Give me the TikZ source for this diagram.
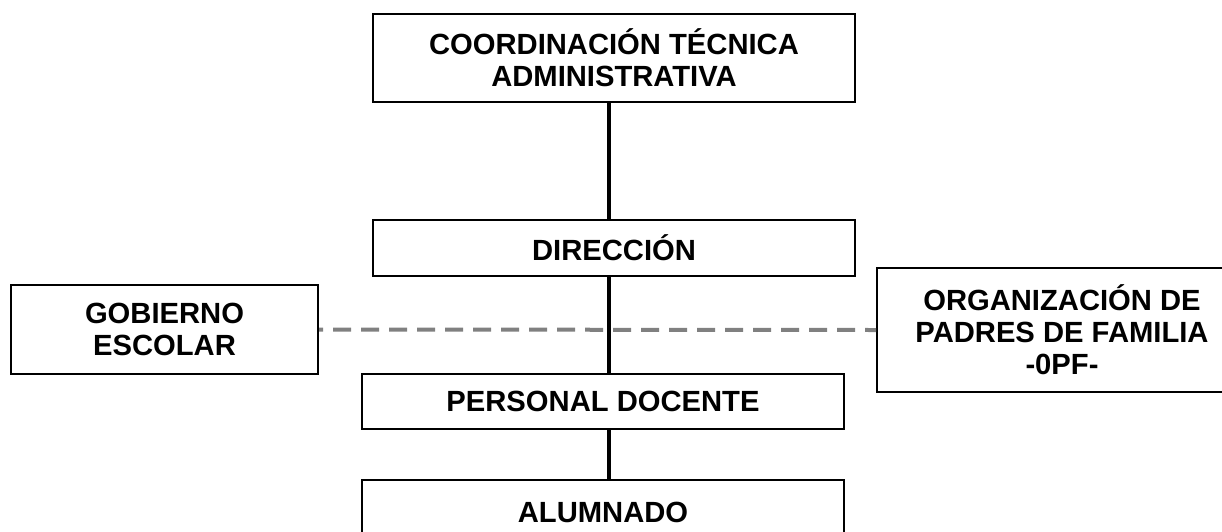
\documentclass[tikz,border=0pt]{standalone}
\usepackage{fontspec}
\setmainfont{Liberation Sans}
\usetikzlibrary{positioning}

\tikzset{
  unit/.style={draw,line width=1pt,align=center,inner sep=0pt,
    font=\fontsize{14.6}{16}\selectfont\bfseries},
  link/.style={line width=2pt},
  tie/.style={line width=2pt,color=gray,dash pattern=on 9pt off 5pt,dash phase=3.5pt}
}

\begin{document}
\begin{tikzpicture}[x=0.5pt,y=-0.5pt]

\useasboundingbox (0,0) rectangle (1222,531);

\node[unit,minimum width=241pt,minimum height=44pt] (coord) at (614,58)
	{COORDINACIÓN TÉCNICA\\ADMINISTRATIVA};
\node[unit,minimum width=241pt,minimum height=28pt] (dir) at (614,248)
	{DIRECCIÓN};
\node[unit,minimum width=153.5pt,minimum height=44.5pt] (gob) at (164.5,329.5)
	{GOBIERNO\\ESCOLAR};
\node[unit,minimum width=185pt,minimum height=62pt] (opf) at (1062,330)
	{ORGANIZACIÓN DE\\PADRES DE FAMILIA\\-0PF-};
\node[unit,minimum width=241pt,minimum height=27.5pt] (doc) at (603,401.5)
	{PERSONAL DOCENTE};
\node[unit,minimum width=241pt,minimum height=32pt] (alu) at (603,512)
	{ALUMNADO};

\coordinate (spine) at (609,0);

% coordinacion
\draw[tie] (opf.west)--(gob.east);

% linea de mando
\draw[link] (spine |- coord.south)--(spine |- dir.north);
\draw[link] (spine |- dir.south)--(spine |- doc.north);
\draw[link] (spine |- doc.south)--(spine |- alu.north);

\end{tikzpicture}
\end{document}
